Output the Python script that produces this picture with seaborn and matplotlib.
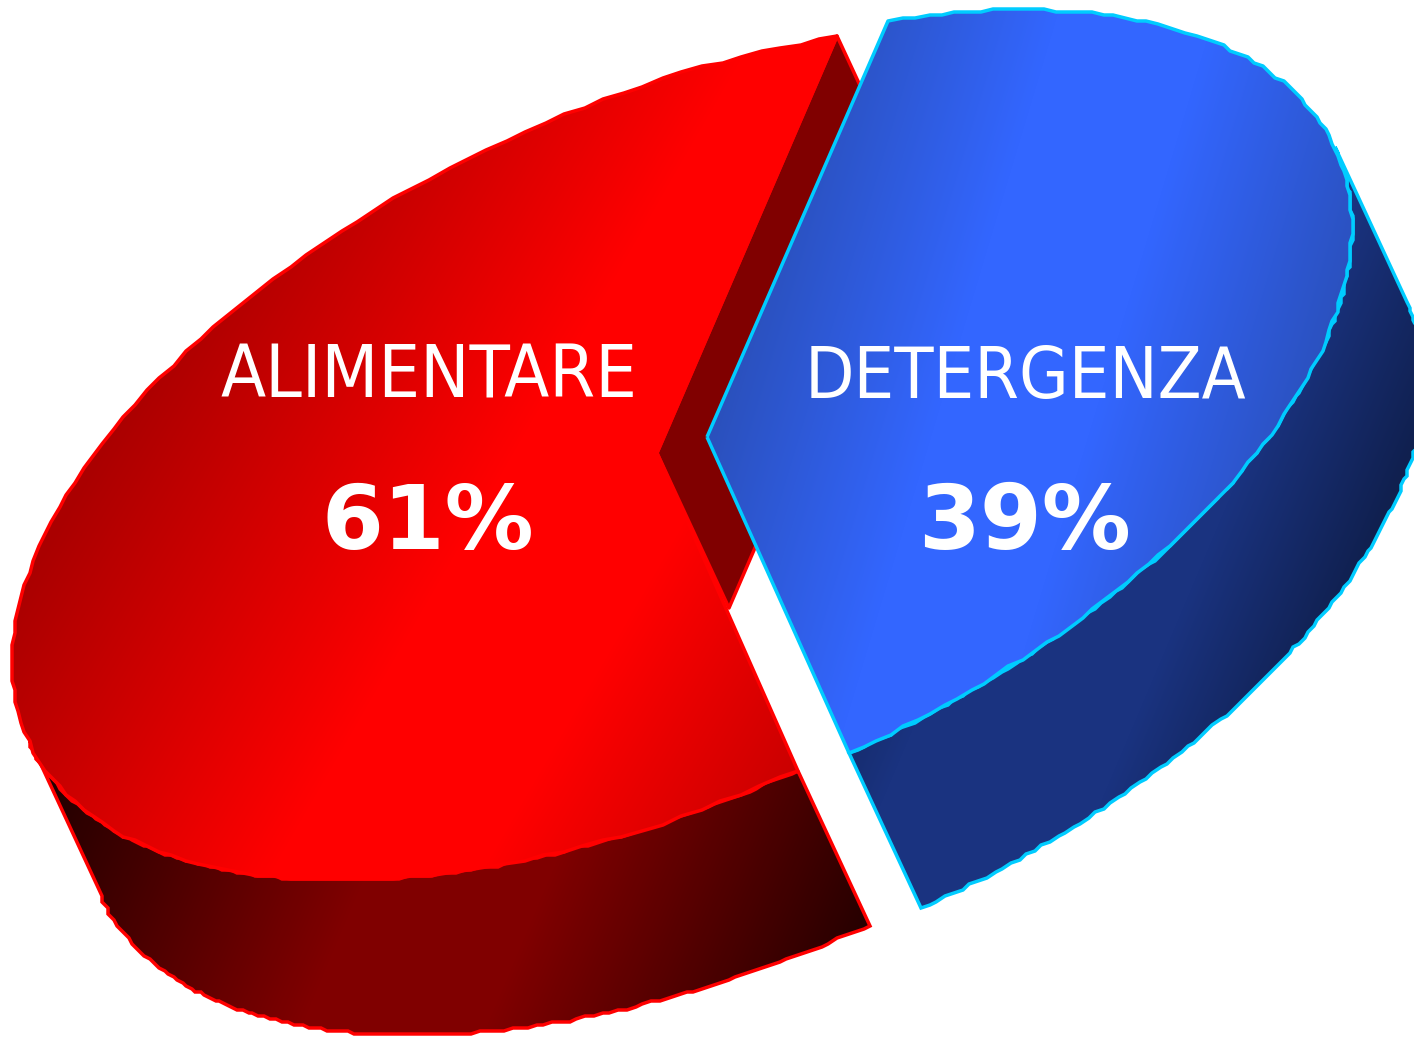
import numpy as np
import matplotlib
matplotlib.use("Agg")
import matplotlib.pyplot as plt
from matplotlib.patches import PathPatch
from matplotlib.path import Path
from matplotlib.colors import LinearSegmentedColormap
import seaborn as sns

categories = ["ALIMENTARE", "DETERGENZA"]
percent_labels = ["61%", "39%"]
# apparent sweep of each slice on the tilted disc (deg)
apparent_sweep = [209, 151]

W, H = 1414, 1038
sns.set_theme(style="white")
fig = plt.figure(figsize=(W / 100, H / 100), dpi=100, facecolor="white")
ax = fig.add_axes([0, 0, 1, 1])
ax.set_xlim(0, W)
ax.set_ylim(H, 0)
ax.axis("off")

U = np.array([645.0, -210.0])
V = np.array([0.0, 372.0])
DEPTH = np.array([72.0, 155.0])
START_DEG = -73.7  # upper cut of the blue slice

centres = [np.array([657.0, 453.0]), np.array([707.0, 437.0])]
edge_cols = ["#ff0000", "#00ccff"]
top_maps = [
    LinearSegmentedColormap.from_list("rt", [(0, "#ff0000"), (0.2, "#ff0000"), (1, "#aa0000")]),
    LinearSegmentedColormap.from_list("bt", [(0, "#3366ff"), (0.25, "#3366ff"), (1, "#2a4fb8")]),
]
wall_maps = [
    LinearSegmentedColormap.from_list("rw", [(0, "#800000"), (0.2, "#800000"), (1, "#200000")]),
    LinearSegmentedColormap.from_list("bw", [(0, "#1a3380"), (0.4, "#1a3380"), (1, "#10204f")]),
]
inner_col = "#800000"
# gradient axes: (band point, unit normal, half width)
top_axes = [((620, 450), (0.865, 0.50), 450), ((1050, 300), (0.958, 0.287), 300)]
wall_axes = [((430, 940), (0.92, 0.39), 420), ((1000, 780), (0.92, 0.39), 250)]

yy, xx = np.mgrid[0:H, 0:W]


def arc(c, t0, t1, n=120):
    t = np.radians(np.linspace(t0, t1, n))
    pts = c + np.outer(np.cos(t), U) + np.outer(np.sin(t), V)
    # the reference outline is slightly stepped
    return np.round(pts / 3) * 3


def shade(cmap, spec, path, zorder):
    (px, py), (nx, ny), w = spec
    g = np.clip(np.abs((xx - px) * nx + (yy - py) * ny) / w, 0, 1)
    im = ax.imshow(g, cmap=cmap, vmin=0, vmax=1, extent=(0, W, H, 0),
                   aspect="auto", zorder=zorder, interpolation="bilinear")
    im.set_clip_path(PathPatch(path, transform=ax.transData))


def closed(pts):
    return Path(np.vstack([pts, pts[0]]))


cross = lambda a, b: a[0] * b[1] - a[1] * b[0]
t_left = np.degrees(np.arctan2(cross(DEPTH, V), cross(DEPTH, U))) % 360
t_right = t_left - 360 + 180

blue_t0 = START_DEG
blue_t1 = START_DEG + apparent_sweep[1]
red_t0 = blue_t1
red_t1 = red_t0 + apparent_sweep[0]
spans = [(red_t0, red_t1), (blue_t0, blue_t1)]
wall_spans = [(red_t0, t_left), (t_right, blue_t1)]

for i in range(2):
    c = centres[i]
    t0, t1 = spans[i]
    a = arc(c, t0, t1)
    # inner cut face (only the red slice shows one)
    if i == 0:
        q = a[-1]
        quad = np.array([c, q, q + DEPTH, c + DEPTH])
        ax.add_patch(PathPatch(closed(quad), fc=inner_col, ec=edge_cols[i],
                               lw=2.5, zorder=2, joinstyle="round"))
    # outer wall
    wa = arc(c, *wall_spans[i])
    wp = closed(np.vstack([wa, wa[::-1] + DEPTH]))
    shade(wall_maps[i], wall_axes[i], wp, 3 + i * 3)
    ax.add_patch(PathPatch(wp, fc="none", ec=edge_cols[i], lw=2.5, zorder=3.1 + i * 3))
    # top face
    top = closed(np.vstack([c, a]))
    shade(top_maps[i], top_axes[i], top, 4 + i * 3)
    ax.add_patch(PathPatch(top, fc="none", ec=edge_cols[i], lw=2.5, zorder=4.1 + i * 3,
                           joinstyle="round"))

label_x = [429, 1025]
label_size = [52.8, 51.5]
for i in range(2):
    ax.text(label_x[i], 398, categories[i], color="white", ha="center", va="baseline",
            family="DejaVu Sans", stretch="condensed", fontsize=label_size[i], zorder=20)
    ax.text(label_x[i] - 1, 549, percent_labels[i], color="white", ha="center", va="baseline",
            family="DejaVu Sans", weight="bold", fontsize=64, zorder=20)

fig.savefig("out.png", dpi=100)
